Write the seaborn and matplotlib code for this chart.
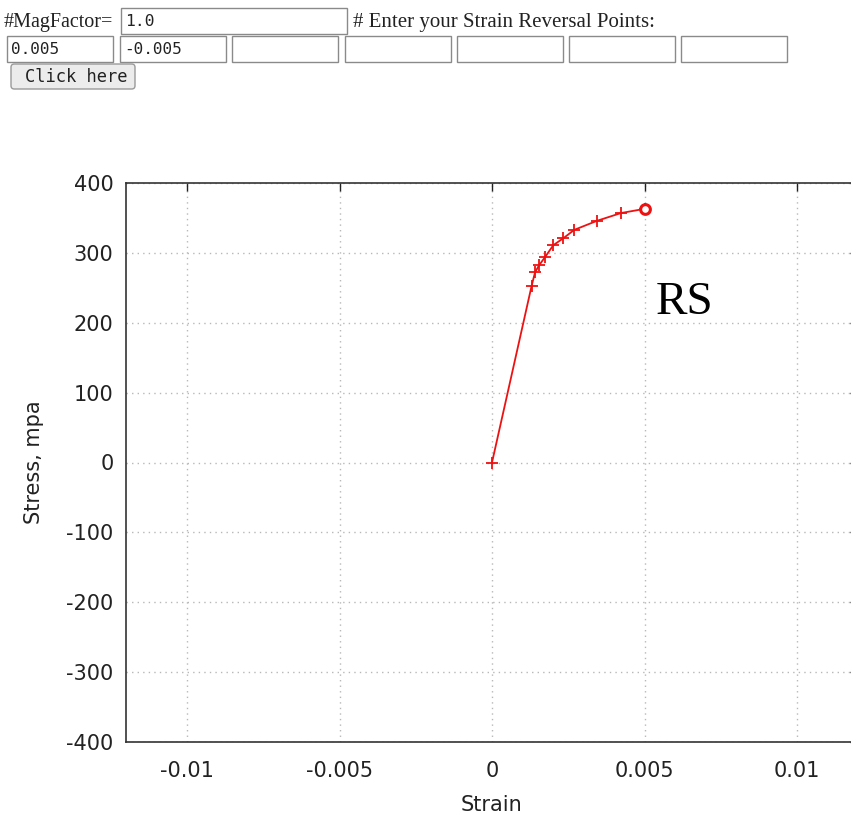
import numpy as np
import pandas as pd
import matplotlib
matplotlib.use("Agg")
import matplotlib.pyplot as plt
from matplotlib.patches import Rectangle, FancyBboxPatch
import seaborn as sns

# ---- data ----
strain = [0.0, 0.00130, 0.00141, 0.00154, 0.00174, 0.00201, 0.00234, 0.00270,
          0.00345, 0.00423, 0.00500]
stress = [0.0, 253, 272, 282, 294, 311, 321, 333, 346, 357, 363]
end_strain = [0.005]
end_stress = [363]
xticks = [-0.01, -0.005, 0, 0.005, 0.01]
xtick_labels = ["-0.01", "-0.005", "0", "0.005", "0.01"]
yticks = [-400, -300, -200, -100, 0, 100, 200, 300, 400]
reversal_points = ["0.005", "-0.005", "", "", "", "", ""]
mag_factor = "1.0"

sns.set_style("white")
plt.rcParams['font.family'] = ['DejaVu Sans']
plt.rcParams['axes.unicode_minus'] = False

W, H = 851, 818
fig = plt.figure(figsize=(W / 100, H / 100), dpi=100)
fig.patch.set_facecolor("white")


def fx(px):
    return px / W


def fy(py):
    return 1 - py / H


# ---- HTML-like form on top ----
serif = ['Liberation Serif', 'DejaVu Serif']
mono = ['DejaVu Sans Mono']


def box(x0, y0, x1, y1):
    fig.add_artist(Rectangle((fx(x0), fy(y1)), fx(x1 - x0), (y1 - y0) / H,
                             transform=fig.transFigure, facecolor="white",
                             edgecolor="#8a8a8a", linewidth=1.0))


fig.text(fx(4), fy(22), "#MagFactor=", family=serif, fontsize=14.5,
         va="center", ha="left", color="#222222")
box(121, 8, 347, 34)
fig.text(fx(125), fy(21), mag_factor, family=mono, fontsize=11.8,
         va="center", ha="left", color="#222222")
fig.text(fx(353), fy(22), "# Enter your Strain Reversal Points:", family=serif,
         fontsize=15, va="center", ha="left", color="#222222")

lefts = [7, 120, 232, 345, 457, 569, 681]
for x0, val in zip(lefts, reversal_points):
    box(x0, 36, x0 + 106, 62)
    if val:
        fig.text(fx(x0 + 4), fy(49), val, family=mono, fontsize=11.5,
                 va="center", ha="left", color="#222222")

fig.add_artist(FancyBboxPatch((fx(11), fy(89)), fx(124), 25 / H,
                              boxstyle="round,pad=0,rounding_size=0.004",
                              transform=fig.transFigure, facecolor="#ececec",
                              edgecolor="#9a9a9a", linewidth=1.0))
fig.text(fx(76), fy(77), "Click here", family=mono, fontsize=12.3,
         va="center", ha="center", color="#222222")

# ---- chart ----
ax_left, ax_right, ax_top, ax_bot = 126, 858, 183, 742
ax = fig.add_axes([fx(ax_left), fy(ax_bot), fx(ax_right - ax_left),
                   (ax_bot - ax_top) / H])
ax.set_facecolor("white")

df = pd.DataFrame({"Strain": strain, "Stress": stress})
sns.lineplot(data=df, x="Strain", y="Stress", sort=False, color="#ee1111",
             linewidth=1.3, marker="+", markersize=8, markeredgewidth=1.3,
             markeredgecolor="#ee1111", ax=ax)
ax.plot(end_strain, end_stress, linestyle="none", marker="o", markersize=7,
        markerfacecolor="white", markeredgecolor="#ee1111", markeredgewidth=2.2,
        zorder=5)

ax.set_xlim(-0.012, 0.012)
ax.set_ylim(-400, 400)
ax.set_xticks(xticks)
ax.set_xticklabels(xtick_labels)
ax.set_yticks(yticks)
ax.tick_params(direction="in", length=6, width=1, top=True, right=True,
               labelsize=15, colors="#222222")
ax.tick_params(axis="x", pad=14)
ax.tick_params(axis="y", pad=9)
ax.grid(True, linestyle=(0, (1, 3)), color="#b8b8b8", linewidth=1)
for s in ax.spines.values():
    s.set_color("#333333")
    s.set_linewidth(1.2)

ax.set_xlabel("Strain", fontsize=15, color="#222222", labelpad=10)
ax.set_ylabel("Stress, mpa", fontsize=15, color="#222222", labelpad=16)

fig.text(fx(656), fy(314), "RS", family=serif, fontsize=34, va="baseline",
         ha="left", color="black")

fig.savefig("out.png", dpi=100)
